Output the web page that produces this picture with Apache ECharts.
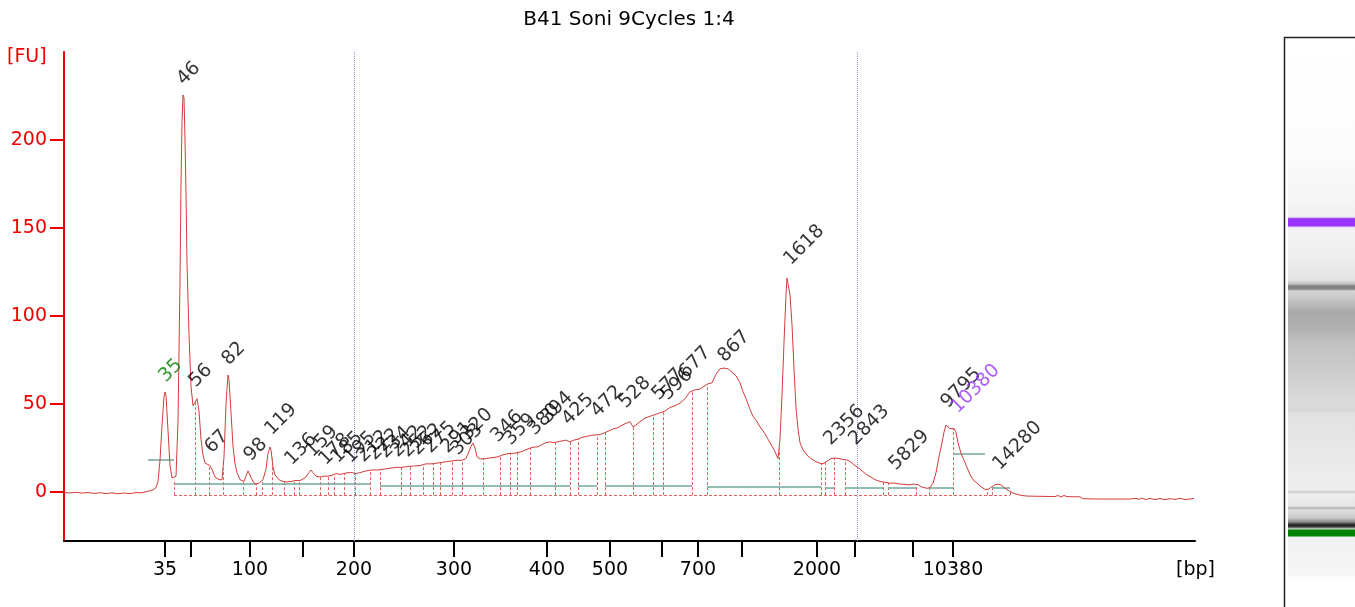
<!DOCTYPE html>
<html><head><meta charset="utf-8">
<script src="https://cdn.jsdelivr.net/npm/echarts@6/dist/echarts.min.js"></script>
<style>html,body{margin:0;padding:0;background:#fff}#c{width:1355px;height:607px}</style>
</head><body><div id="c"></div>
<script>
// migration position (arbitrary time units) vs fluorescence [FU]
const tracePoints = [[64,-0.3],[70,-0.5],[76,-0.2],[82,-0.6],[88,-0.3],[94,-0.8],[100,-0.4],[106,-0.9],[112,-0.5],[118,-1.0],[124,-0.6],[130,-0.9],[136,-0.3],[142,-0.5],[148,0.5],[152,0.8],[156,2.5],[158,6],[160,18],[162,38],[164,54],[165,56.8],[166,55],[168,35],[170,15],[172,8],[174,7],[176,9],[178,40],[180,120],[181,175],[182,210],[183,225.6],[184,224],[185,200],[186,170],[187,130],[189,90],[191,60],[193,49],[195,51],[197,53],[199,46],[201,30],[203,21],[205,16.5],[207,15.5],[210,15],[212,13],[215,8.5],[219,7],[222,7],[224,20],[226,50],[228,66.5],[229,64],[231,45],[233,26],[235,16],[237,11],[240,7],[244,6],[246,9],[248,12],[250,11],[252,7],[255,4.5],[259,5],[263,7],[266,13],[268,22],[270,25.6],[271,24],[273,14],[275,9.7],[279,7],[283,6],[287,5.7],[291,6],[295,6.5],[300,6.5],[305,8],[309,11],[311,12.5],[313,11],[316,9],[320,8.5],[324,9],[328,9],[332,9.5],[336,10.5],[340,10],[344,10.5],[348,11],[352,11],[356,10.5],[360,11],[366,12],[372,12.5],[378,12.5],[384,13],[390,13.5],[396,14],[402,14],[408,14.5],[414,14.8],[420,15],[426,16],[432,16],[438,16.5],[444,17],[450,17.5],[456,18],[462,18],[466,19],[469,23],[471,26],[473,27.8],[475,25],[477,20],[480,18.8],[486,19],[492,19.5],[498,20],[502,21],[506,21.5],[510,22],[514,22],[518,22.5],[522,23],[526,24],[530,25],[534,25.5],[538,25.7],[542,27],[546,28],[550,28.5],[554,28],[558,28.6],[562,29],[566,29.5],[570,28.5],[574,29.5],[578,30],[582,31],[586,31.5],[590,32],[594,32.4],[598,32.5],[602,33],[606,34],[610,35],[614,36],[618,36.5],[622,38],[626,39],[630,40],[633,37],[636,38],[640,40],[645,42],[650,43],[655,44],[660,45],[665,46],[670,48],[675,49],[680,50.5],[685,53],[690,57],[695,58],[700,58.5],[704,60],[708,61.5],[712,62],[716,67],[720,70],[724,70.4],[728,70],[732,68],[736,66],[740,62],[743,57],[746,53],[750,47],[753,43],[757,40],[760,37],[764,34],[768,30],[772,26],[775,23],[778,19],[780,30],[782,55],[784,85],[786,112],[787,121.6],[789,121],[790,112],[792,95],[794,70],[796,48],[798,36],[800,28],[803,24],[807,21],[811,19],[815,17.5],[819,16.5],[823,16],[827,17.5],[831,19],[835,19.3],[839,19],[843,18.5],[847,18.2],[851,17],[855,15],[859,13.5],[863,11.5],[867,9.7],[871,8.5],[875,7],[880,6],[885,5.5],[890,5],[895,5],[900,4.5],[905,4.3],[910,4],[913,4.5],[915,3.5],[918,4.2],[921,3],[924,2.5],[927,2.1],[930,2.5],[933,5],[936,11],[939,20],[942,28],[944,34],[946,38],[948,37.5],[950,36],[952,35.6],[954,36],[956,34],[958,28],[961,22],[964,18],[967,14],[970,10],[973,7],[977,5],[981,3],[985,1.5],[988,1.5],[992,3],[995,4.2],[998,4.4],[1001,4],[1004,2.5],[1008,1],[1013,-0.6],[1018,-1.5],[1022,-2],[1027,-2.3],[1035,-2.4],[1045,-2.5],[1055,-2.6],[1058,-2],[1061,-2.8],[1064,-2],[1067,-2.6],[1072,-2.7],[1080,-2.7],[1083,-3.8],[1090,-3.9],[1100,-4],[1110,-4],[1120,-4],[1130,-4],[1136,-3.6],[1139,-4.2],[1142,-3.5],[1146,-4.3],[1150,-3.6],[1155,-4.3],[1160,-3.7],[1165,-4.4],[1170,-3.8],[1175,-4.2],[1180,-3.6],[1185,-4.3],[1190,-4],[1194,-3.6]];

const peakText = ['35','46','56','67','82','98','119','136','159','178','185','195','212','222','234','242','252','262','275','291','303','320','346','359','380','394','425','472','528','577','596','677','867','1618','2356','2843','5829','9795','10380','14280'];
const peakT = [165,183,195,211,228,250,271,291,312,325,337,350,363,374,385,397,407,417,430,447,457,467,497,510,534,547,568,597,625,658,667,685,724,790,830,855,895,947,957,999];
const peakFU = [56.8,225.6,54,16.5,66.5,11.9,26.7,9.7,14.2,9.7,10.8,10.8,11.4,12.5,13.6,14.2,14.2,15.3,16.5,16.5,15.3,23.9,22.7,21,26.7,33.5,32.4,36.9,42,46.6,46.6,59,68.2,123.3,21,21,6.8,42,39.2,6.8];
const lowerMarker = '35';
const upperMarker = '10380';

const boundaryT = [174,195,209,223,243,256,262,272,284,294,299,320,328,334,344,355,370,380,401,410,423,433,440,452,462,483,500,510,517,530,555,570,578,597,605,633,653,663,692,707,779,821,825,834,845,883,888,916,929,953,987,992,1010];
const boundaryBaseFU = -1.8;
const baselineStart = [148,175,262,380,483,578,605,707,825,845,888,929,953,992];
const baselineEnd   = [174,256,370,483,570,597,692,821,834,883,916,953,985,1010];
const baselineFU    = [18.2,4.5,4.5,3.4,3.4,3.4,3.4,3.0,2.3,2.3,2.3,2.3,21.6,2.3];

const tickValues = [165,191,250,303,354,454,547,610,662,698,742,817,855,913,953];
const tickLabels = ['35','','100','','200','300','400','500','','700','','2000','','','10380'];
const fuTicks = [0,50,100,150,200];
const regionMarkers = [354,857];

const FONT = 'DejaVu Sans';
const RED = '#ee0000';

function interp(t){
  for(let i=1;i<tracePoints.length;i++){
    if(tracePoints[i][0]>=t){
      const a=tracePoints[i-1], b=tracePoints[i];
      const f=(t-a[0])/(b[0]-a[0]);
      return a[1]+f*(b[1]-a[1]);
    }
  }
  return tracePoints[tracePoints.length-1][1];
}
const labelMap = {};
tickValues.forEach((v,i)=>{ if(tickLabels[i]) labelMap[v]=tickLabels[i]; });
const labelValues = tickValues.filter((v,i)=>tickLabels[i]);

const boundaryLines = boundaryT.map(t=>({coords:[[t,boundaryBaseFU],[t,interp(t)]]}));
boundaryLines.push({coords:[[boundaryT[0],boundaryBaseFU],[boundaryT[boundaryT.length-1],boundaryBaseFU]]});
const baselineLines = baselineStart.map((s,i)=>({coords:[[s,baselineFU[i]],[baselineEnd[i],baselineFU[i]]]}));

const peakData = peakT.map((t,i)=>{
  const c = peakText[i]===lowerMarker ? '#008000' : (peakText[i]===upperMarker ? '#9933ff' : '#000');
  return {value:[t,peakFU[i]], name:peakText[i], label:{color:c}};
});

const stops = [
 [40,'#ffffff'],[150,'#fcfcfc'],[200,'#f5f5f5'],[217,'#f0f0f0'],[218.5,'#a050f0'],[219,'#9933ff'],[226,'#9933ff'],[227,'#e8d8f8'],[229,'#f4f4f4'],
 [260,'#eeeeee'],[280,'#e4e4e4'],[284,'#c0c0c0'],[286,'#808080'],[289,'#858585'],[291,'#d6d6d6'],[300,'#c4c4c4'],[312,'#a9a9a9'],[325,'#aeaeae'],
 [345,'#c2c2c2'],[380,'#d0d0d0'],[405,'#dcdcdc'],[411,'#d6d6d6'],[413,'#e2e2e2'],[450,'#e8e8e8'],[490,'#eeeeee'],[492,'#cccccc'],[494,'#eeeeee'],
 [506,'#e6e6e6'],[508,'#b4b4b4'],[510,'#e0e0e0'],[518,'#c8c8c8'],[522,'#8a8a8a'],[525,'#1a1a1a'],[527,'#444444'],[529,'#cfe3cf'],[530,'#008000'],
 [536,'#008000'],[537,'#f2f2f2'],[576,'#f6f6f6'],[577,'#ffffff']
].map(s=>({offset:(s[0]-40)/537, color:s[1]}));

const chart = echarts.init(document.getElementById('c'));
chart.setOption({
  animation:false,
  backgroundColor:'#fff',
  title:{text:'B41 Soni 9Cycles 1:4', left:624, top:5, textAlign:'center',
    textStyle:{fontFamily:FONT, fontSize:20, fontWeight:'normal', color:'#000'}},
  grid:{left:64, right:160, top:52, bottom:66},
  xAxis:{type:'value', min:64, max:1195,
    axisLine:{show:true, onZero:false, lineStyle:{color:'#000', width:2}},
    axisTick:{show:true, customValues:tickValues, length:16, lineStyle:{color:'#000', width:2}},
    axisLabel:{show:true, customValues:labelValues, formatter:v=>labelMap[v]||'', margin:20,
      fontFamily:FONT, fontSize:19, color:'#000'},
    splitLine:{show:false}},
  yAxis:{type:'value', min:-27.84, max:250,
    axisLine:{show:true, onZero:false, lineStyle:{color:RED, width:2}},
    axisTick:{show:true, customValues:fuTicks, length:14, lineStyle:{color:RED, width:2}},
    axisLabel:{show:true, customValues:fuTicks, margin:17, fontFamily:FONT, fontSize:19, color:RED},
    splitLine:{show:false}},
  graphic:[
    {type:'text', left:7, top:48, style:{text:'[FU]', fill:RED, font:'19px "DejaVu Sans"'}},
    {type:'text', left:1176, top:561, style:{text:'[bp]', fill:'#000', font:'19px "DejaVu Sans"'}},
    {type:'rect', shape:{x:1288, y:40, width:67, height:537}, style:{fill:new echarts.graphic.LinearGradient(0,0,0,1,stops)}},
    {type:'polyline', shape:{points:[[1284.5,607],[1284.5,37.5],[1355,37.5]]}, style:{stroke:'#222', lineWidth:1.5, fill:null}}
  ],
  series:[
    {type:'lines', coordinateSystem:'cartesian2d', data:boundaryLines, silent:true, z:2,
      lineStyle:{color:'#e06060', type:[3,2], width:1, opacity:1}},
    {type:'lines', coordinateSystem:'cartesian2d', data:baselineLines, silent:true, z:3,
      lineStyle:{color:'#6fa89c', type:'solid', width:1.5, opacity:1}},
    {type:'line', data:tracePoints, symbol:'none', z:4, lineStyle:{color:'#d23c3c', width:1},
      markLine:{silent:true, symbol:['none','none'], label:{show:false},
        lineStyle:{color:'#8c8cd0', type:'dotted', width:1},
        data:regionMarkers.map(v=>({xAxis:v}))}},
    {type:'scatter', data:peakData, symbol:'circle', symbolSize:1, z:5,
      itemStyle:{color:'rgba(0,0,0,0)'},
      label:{show:true, formatter:'{b}', position:'inside', rotate:45, align:'left', verticalAlign:'middle',
        offset:[7,-11], fontFamily:FONT, fontSize:19}}
  ]
});
</script></body></html>
